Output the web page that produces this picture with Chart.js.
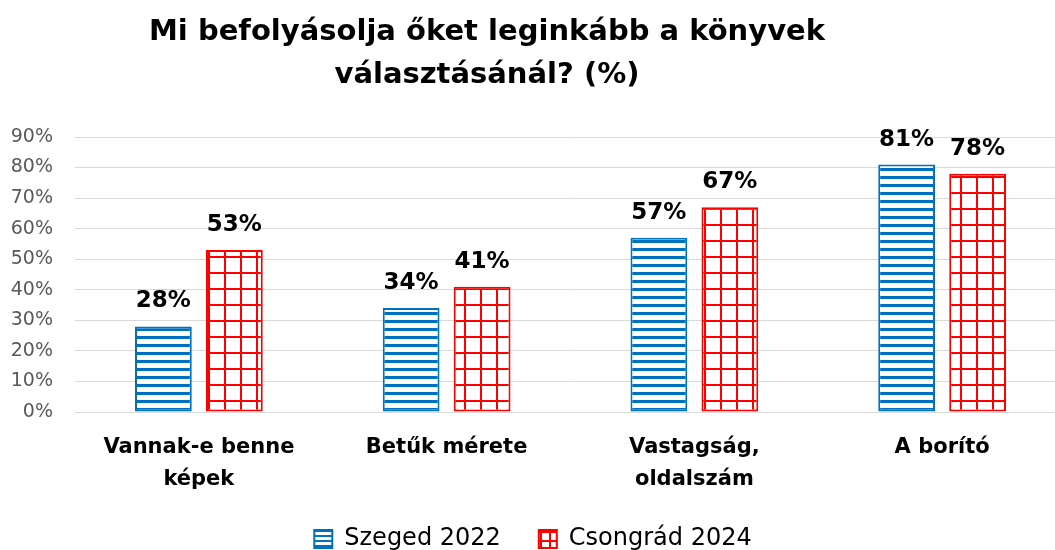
<!DOCTYPE html>
<html lang="hu">
<head>
  <meta charset="UTF-8">
  <title>Mi befolyásolja őket leginkább a könyvek választásánál?</title>
  <script src="https://cdn.jsdelivr.net/npm/chart.js"></script>
  <style>
    body { margin: 0; overflow: hidden; background: #fff; }
  </style>
</head>
<body>
  <canvas id="bookChart" width="1066" height="550"></canvas>

  <script>
    // Data
    const categories = [['Vannak-e benne', 'képek'], 'Betűk mérete', ['Vastagság,', 'oldalszám'], 'A borító'];
    const seriesNames = ['Szeged 2022', 'Csongrád 2024'];
    const szeged2022 = [28, 34, 57, 81];
    const csongrad2024 = [53, 41, 67, 78];
    const yTicks = [0, 10, 20, 30, 40, 50, 60, 70, 80, 90];
    const titleLines = ['Mi befolyásolja őket leginkább a könyvek', 'választásánál? (%)'];

    const BLUE = '#0070C0';
    const RED = '#FF0000';
    const FONT = '"DejaVu Sans", "Liberation Sans", sans-serif';

    // fill patterns: horizontal stripes and a square grid
    function stripes(period, thick) {
      const c = document.createElement('canvas');
      c.width = period; c.height = period;
      const g = c.getContext('2d');
      g.fillStyle = '#fff'; g.fillRect(0, 0, period, period);
      g.fillStyle = BLUE; g.fillRect(0, 0, period, thick);
      return g.createPattern(c, 'repeat');
    }
    function grid(period, thick) {
      const c = document.createElement('canvas');
      c.width = period; c.height = period;
      const g = c.getContext('2d');
      g.fillStyle = '#fff'; g.fillRect(0, 0, period, period);
      g.fillStyle = RED;
      g.fillRect(0, 0, period, thick);
      g.fillRect(0, 0, thick, period);
      return g.createPattern(c, 'repeat');
    }

    const ctx = document.getElementById('bookChart').getContext('2d');

    const titlePlugin = {
      id: 'titleText',
      afterDraw(chart) {
        const c = chart.ctx;
        c.save();
        c.fillStyle = '#000';
        c.font = 'bold 29px ' + FONT;
        c.textAlign = 'center';
        c.textBaseline = 'middle';
        c.fillText(titleLines[0], 487, 32);
        c.fillText(titleLines[1], 487, 75);
        c.restore();
      }
    };

    const valueLabels = {
      id: 'valueLabels',
      afterDatasetsDraw(chart) {
        const c = chart.ctx;
        c.save();
        c.fillStyle = '#000';
        c.font = 'bold 23px ' + FONT;
        c.textAlign = 'center';
        c.textBaseline = 'alphabetic';
        chart.data.datasets.forEach((ds, i) => {
          chart.getDatasetMeta(i).data.forEach((bar, j) => {
            c.fillText(ds.data[j] + '%', bar.x, bar.y - 19);
          });
        });
        c.restore();
      }
    };

    new Chart(ctx, {
      type: 'bar',
      data: {
        labels: categories,
        datasets: [
          {
            label: seriesNames[0],
            data: szeged2022,
            backgroundColor: stripes(8, 3),
            borderColor: BLUE,
            borderWidth: 2,
            borderSkipped: false,
            categoryPercentage: 0.573,
            barPercentage: 0.8
          },
          {
            label: seriesNames[1],
            data: csongrad2024,
            backgroundColor: grid(16, 2),
            borderColor: RED,
            borderWidth: 2,
            borderSkipped: false,
            categoryPercentage: 0.573,
            barPercentage: 0.8
          }
        ]
      },
      options: {
        responsive: false,
        animation: false,
        layout: { padding: { top: 137, left: 0, right: 0, bottom: -11 } },
        plugins: {
          title: { display: false },
          tooltip: { enabled: false },
          legend: {
            position: 'bottom',
            labels: {
              color: '#222',
              font: { family: FONT, size: 24 },
              boxWidth: 18,
              boxHeight: 18,
              padding: 38,
              generateLabels: chart => [
                { text: seriesNames[0], fillStyle: stripes(5, 2), strokeStyle: BLUE, lineWidth: 2, datasetIndex: 0 },
                { text: seriesNames[1], fillStyle: grid(9, 2), strokeStyle: RED, lineWidth: 2, datasetIndex: 1 }
              ]
            }
          }
        },
        scales: {
          x: {
            grid: { display: false },
            border: { display: false },
            ticks: {
              color: '#000',
              font: { family: FONT, size: 21, weight: 'bold', lineHeight: 1.52 },
              padding: 12,
              maxRotation: 0
            },
            afterFit: scale => { scale.height = 77; }
          },
          y: {
            min: 0,
            max: 90,
            afterBuildTicks: scale => { scale.ticks = yTicks.map(v => ({ value: v })); },
            grid: { color: '#d9d9d9', lineWidth: 1, drawTicks: false },
            border: { display: false },
            ticks: {
              color: '#595959',
              font: { family: FONT, size: 19 },
              padding: 22,
              callback: v => v + '%'
            },
            afterFit: scale => { scale.width = 75; }
          }
        }
      },
      plugins: [titlePlugin, valueLabels]
    });
  </script>
</body>
</html>
